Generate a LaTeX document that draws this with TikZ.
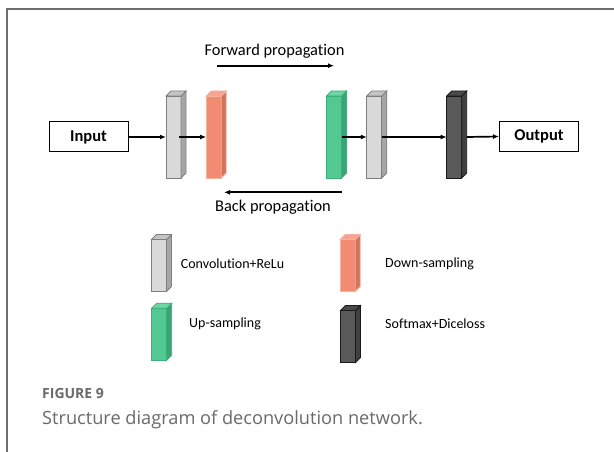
\documentclass[tikz,border=0pt]{standalone}
\usepackage{fontspec}
\setmainfont{Carlito}[Ligatures=NoCommon]
\newfontfamily\capfont{Open Sans}
\usetikzlibrary{arrows.meta,calc}

% block colours: front, side, top, edge
\definecolor{convF}{HTML}{D9D9D9}\definecolor{convS}{HTML}{A6A6A6}\definecolor{convT}{HTML}{C4C4C4}\definecolor{convE}{HTML}{7F7F7F}
\definecolor{downF}{HTML}{F18C72}\definecolor{downS}{HTML}{D4735C}\definecolor{downT}{HTML}{F5A48F}\definecolor{downE}{HTML}{F6B1A0}
\definecolor{upF}{HTML}{52C993}\definecolor{upS}{HTML}{3CA474}\definecolor{upT}{HTML}{6DD6A5}\definecolor{upE}{HTML}{3DAE7A}
\definecolor{smF}{HTML}{595959}\definecolor{smS}{HTML}{404040}\definecolor{smT}{HTML}{4A4A4A}\definecolor{smE}{HTML}{1A1A1A}
\definecolor{framecol}{HTML}{6E6E6E}
\definecolor{captxt}{HTML}{6A6A6A}

% one 3D block: name, centre, height, colour prefix
\newcommand\layerblock[4]{%
  \node[draw=#4E, fill=#4F, line width=0.8pt, minimum width=15pt, minimum height=#3pt,
        inner sep=0pt, outer sep=0pt] (#1) at (#2) {};
  \filldraw[draw=#4E, fill=#4S, line width=0.8pt]
    (#1.north east) -- ++(5,-5) -- ($(#1.south east)+(5,-5)$) -- (#1.south east) -- cycle;
  \filldraw[draw=#4E, fill=#4T, line width=0.8pt]
    (#1.north west) -- ++(5,-5) -- ($(#1.north east)+(5,-5)$) -- (#1.north east) -- cycle;
}

\tikzset{
  iobox/.style={draw=black, line width=1pt, minimum width=79pt, minimum height=30pt,
                inner sep=0pt, font=\fontsize{16.5}{18}\selectfont\bfseries},
  flow/.style={-{Latex[length=6pt,width=5pt]}, line width=1.7pt},
  lbl/.style={font=\fontsize{16.4}{18}\selectfont, inner sep=0pt},
  legtxt/.style={font=\fontsize{14}{16}\selectfont, anchor=west, inner sep=0pt},
}

\begin{document}
\begin{tikzpicture}[x=1pt, y=-1pt]
  \useasboundingbox (0,0) rectangle (614,452);
  \fill[white] (0,0) rectangle (614,452);

  % frame around the figure
  \draw[framecol, line width=1.6pt] (7,452) -- (7,9.3) -- (614,9.3);

  % network layers
  \layerblock{c1}{173.5,137}{82}{conv}
  \layerblock{d1}{213.7,137}{82}{down}
  \layerblock{u1}{334,137}{82}{up}
  \layerblock{c2}{374.3,137}{82}{conv}
  \layerblock{s1}{454.2,137}{82}{sm}

  \node[iobox] (in) at (88.5,137) {Input};
  \node[iobox] (out) at (539,136.5) {Output};

  \draw[flow] (in.east) -- (c1.west);
  \draw[flow] ($(c1.east)+(-2,0)$) -- (d1.west);
  \draw[flow] (u1.east) -- (c2.west);
  \draw[flow] (c2.east) -- (s1.west);
  \draw[flow] ($(s1.east)+(5,0)$) -- (out.west);

  % propagation directions
  \node[lbl] (fwd) at (274.5,51.5) {Forward propagation};
  \coordinate (fwdA) at (216.5,65.7);
  \coordinate (fwdB) at (334,65.7);
  \draw[flow] (fwdA) -- (fwdB);

  \node[lbl] (bwd) at (273,207) {Back propagation};
  \coordinate (bwdA) at (341.5,192.3);
  \coordinate (bwdB) at (224,192.3);
  \draw[flow] (bwdA) -- (bwdB);

  % legend
  \layerblock{k1}{159,265.5}{52}{conv}
  \layerblock{k2}{347.7,265.5}{52}{down}
  \layerblock{k3}{159.2,334.2}{52}{up}
  \layerblock{k4}{348,336.5}{52}{sm}
  \node[legtxt] (t1) at (180.7,263.5) {Convolution+ReLu};
  \node[legtxt] (t2) at (385,263.5) {Down-sampling};
  \node[legtxt] (t3) at (189,323.5) {Up-sampling};
  \node[legtxt] (t4) at (385,323.5) {Softmax+Diceloss};

  % caption
  \node[anchor=base west, inner sep=0pt, text=captxt, font=\capfont\fontsize{14}{16}\selectfont\bfseries] (fig) at (42,398) {FIGURE 9};
  \node[anchor=base west, inner sep=0pt, text=captxt, font=\capfont\fontsize{18.2}{21}\selectfont] (cap) at (42,424.3) {Structure diagram of deconvolution network.};
\end{tikzpicture}
\end{document}
